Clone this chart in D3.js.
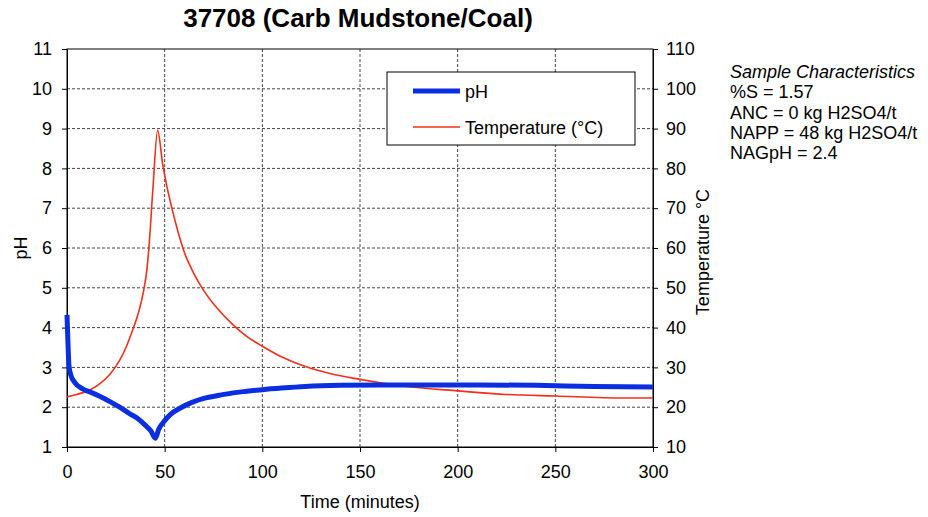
<!DOCTYPE html>
<html>
<head>
<meta charset="utf-8">
<script src="https://cdn.jsdelivr.net/npm/d3@7"></script>
<style>
  body { margin: 0; background: #fff; }
  svg { font-family: "Liberation Sans", Arial, sans-serif; }
</style>
</head>
<body>
<div id="chart"></div>
<script>
// pH series (time in minutes)
const phTime = [0, 0.5, 1, 2, 4, 8, 12, 17, 22, 27, 32, 36, 40, 43, 45.2, 47, 49, 53, 58, 64, 70, 78, 85, 92, 100, 110, 122, 140, 160, 180, 210, 240, 270, 300];
const phValues = [4.32, 3.6, 3.05, 2.8, 2.62, 2.46, 2.38, 2.27, 2.14, 2.0, 1.84, 1.72, 1.55, 1.4, 1.22, 1.45, 1.6, 1.82, 1.98, 2.12, 2.22, 2.3, 2.36, 2.4, 2.44, 2.48, 2.52, 2.55, 2.56, 2.56, 2.56, 2.55, 2.52, 2.51];

// temperature series
const tempTime = [0, 5, 11.6, 16, 22, 27, 30, 33, 37, 39, 41, 42, 44, 46.4, 49, 51, 53.4, 56, 60, 65, 70, 77, 85, 92, 100, 110, 122, 135, 150, 174, 200, 225, 250, 285, 300];
const tempValues = [22.6, 23.2, 24.3, 25.6, 28.3, 31.8, 34.8, 38.6, 44.5, 48.7, 55, 60.5, 75, 89.6, 81, 75.8, 70.6, 65.6, 59, 53.5, 49.3, 44.8, 40.7, 37.8, 35.3, 32.6, 30.2, 28.4, 27.0, 25.2, 24.1, 23.2, 22.8, 22.3, 22.3];

const xTicks = [0, 50, 100, 150, 200, 250, 300];
const phTicks = [1, 2, 3, 4, 5, 6, 7, 8, 9, 10, 11];
const tempTicks = [10, 20, 30, 40, 50, 60, 70, 80, 90, 100, 110];

const sampleLines = ["%S = 1.57", "ANC = 0 kg H2SO4/t", "NAPP = 48 kg H2SO4/t", "NAGpH = 2.4"];

const width = 928, height = 517;
const margin = { top: 49, right: 275, bottom: 70, left: 67 };
const plotW = width - margin.left - margin.right; // ~586
const plotH = height - margin.top - margin.bottom;

const svg = d3.select("#chart").append("svg")
  .attr("width", width)
  .attr("height", height);

const g = svg.append("g").attr("transform", `translate(${margin.left},${margin.top})`);

const x = d3.scaleLinear().domain([0, 300]).range([0, plotW]);
const yPH = d3.scaleLinear().domain([1, 11]).range([plotH, 0]);
const yT = d3.scaleLinear().domain([10, 110]).range([plotH, 0]);

// grid
g.append("g").selectAll("line")
  .data(phTicks.slice(1, -1))
  .join("line")
  .attr("x1", 0).attr("x2", plotW)
  .attr("y1", d => yPH(d)).attr("y2", d => yPH(d))
  .attr("stroke", "#444").attr("stroke-dasharray", "3,2");
g.append("g").selectAll("line")
  .data(xTicks.slice(1, -1))
  .join("line")
  .attr("y1", 0).attr("y2", plotH)
  .attr("x1", d => x(d)).attr("x2", d => x(d))
  .attr("stroke", "#444").attr("stroke-dasharray", "3,2");

// frame
g.append("rect").attr("width", plotW).attr("height", plotH)
  .attr("fill", "none").attr("stroke", "#000");

// axes
const axisFont = (sel) => {
  sel.selectAll("text").attr("font-size", 18).attr("fill", "#000");
  sel.select(".domain").attr("stroke", "#000");
  sel.selectAll(".tick line").attr("stroke", "#000");
  sel.attr("font-family", null);
};
g.append("g")
  .call(d3.axisLeft(yPH).tickValues(phTicks).tickSize(5).tickPadding(10).tickSizeOuter(0))
  .call(axisFont);
g.append("g").attr("transform", `translate(${plotW},0)`)
  .call(d3.axisRight(yT).tickValues(tempTicks).tickSize(5).tickPadding(8).tickSizeOuter(0))
  .call(axisFont);
g.append("g").attr("transform", `translate(0,${plotH})`)
  .call(d3.axisBottom(x).tickValues(xTicks).tickSize(5).tickPadding(13).tickSizeOuter(0))
  .call(axisFont);

// lines
const phLine = d3.line()
  .x((d, i) => x(phTime[i]))
  .y(d => yPH(d))
  .curve(d3.curveMonotoneX);
const tempLine = d3.line()
  .x((d, i) => x(tempTime[i]))
  .y(d => yT(d))
  .curve(d3.curveMonotoneX);

g.append("path").attr("d", tempLine(tempValues))
  .attr("fill", "none").attr("stroke", "#f0301a").attr("stroke-width", 1.6);
g.append("path").attr("d", phLine(phValues))
  .attr("fill", "none").attr("stroke", "#0b2fe0").attr("stroke-width", 5);

// legend
const legend = svg.append("g").attr("transform", "translate(387,72)");
legend.append("rect").attr("width", 248).attr("height", 73)
  .attr("fill", "#fff").attr("stroke", "#000");
legend.append("line").attr("x1", 26).attr("x2", 73).attr("y1", 19).attr("y2", 19)
  .attr("stroke", "#0b2fe0").attr("stroke-width", 5);
legend.append("text").attr("x", 78).attr("y", 26).attr("font-size", 18).text("pH");
legend.append("line").attr("x1", 26).attr("x2", 73).attr("y1", 55).attr("y2", 55)
  .attr("stroke", "#f0301a").attr("stroke-width", 1.6);
legend.append("text").attr("x", 78).attr("y", 62).attr("font-size", 18).text("Temperature (°C)");

// titles
svg.append("text").attr("x", 358).attr("y", 27).attr("text-anchor", "middle")
  .attr("font-size", 26).attr("font-weight", "bold").text("37708 (Carb Mudstone/Coal)");
svg.append("text").attr("x", margin.left + plotW / 2).attr("y", 508).attr("text-anchor", "middle")
  .attr("font-size", 18).text("Time (minutes)");
svg.append("text").attr("transform", `translate(27,${margin.top + plotH / 2}) rotate(-90)`)
  .attr("text-anchor", "middle").attr("font-size", 18).text("pH");
svg.append("text").attr("transform", `translate(709,${margin.top + plotH / 2 + 4}) rotate(-90)`)
  .attr("text-anchor", "middle").attr("font-size", 18).text("Temperature °C");

// sample characteristics
const side = svg.append("g").attr("transform", "translate(730,78)");
side.append("text").attr("font-size", 18).attr("font-style", "italic").text("Sample Characteristics");
side.selectAll("text.line").data(sampleLines).join("text")
  .attr("class", "line")
  .attr("y", (d, i) => (i + 1) * 20.3)
  .attr("font-size", 18)
  .text(d => d);
</script>
</body>
</html>
